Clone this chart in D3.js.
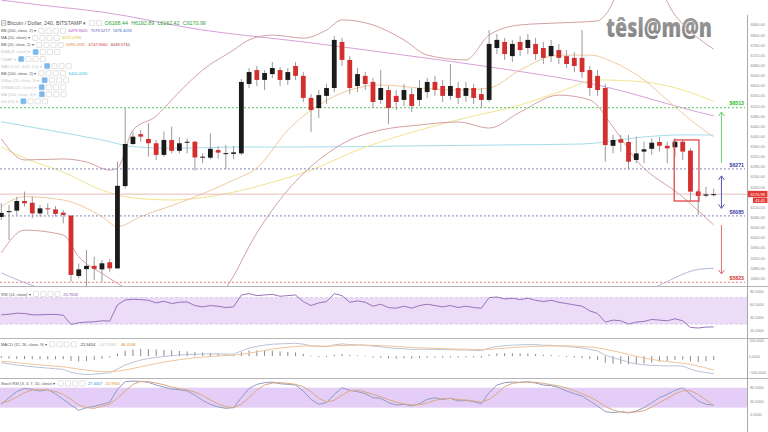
<!DOCTYPE html>
<html><head><meta charset="utf-8">
<script src="https://cdn.jsdelivr.net/npm/d3@7"></script>
<style>html,body{margin:0;padding:0;background:#fff;overflow:hidden}svg{display:block;font-family:"Liberation Sans",Arial,sans-serif}</style>
</head><body><svg id="c" width="768" height="432"></svg>
<script>
// ---------------- DATA ----------------
const opens =[6081,6100,6106,6144,6137,6095,6115,6111,6098,6086,5848,5875,5888,5874,5902,5878,6203,6369,6408,6389,6372,6326,6385,6342,6374,6378,6318,6315,6345,6331,6330,6332,6606,6661,6622,6645,6661,6622,6677,6638,6551,6511,6559,6590,6772,6701,6598,6638,6614,6543,6582,6559,6543,6566,6543,6574,6614,6598,6559,6590,6559,6590,6566,6543,6748,6772,6716,6772,6748,6764,6748,6716,6740,6716,6709,6709,6661,6638,6590,6362,6388,6377,6306,6339,6350,6377,6362,6356,6378,6343,6182,6165,6168.44];
const highs =[6136,6128,6161,6181,6161,6128,6135,6124,6108,6089,5898,5950,5924,5911,5914,6299,6510,6418,6424,6451,6385,6418,6437,6395,6391,6382,6332,6411,6361,6365,6361,6626,6669,6677,6661,6693,6673,6669,6693,6653,6566,6582,6606,6795,6788,6716,6669,6653,6630,6661,6598,6582,6606,6590,6622,6630,6638,6622,6685,6614,6614,6606,6590,6819,6803,6788,6780,6795,6803,6788,6772,6780,6764,6740,6732,6819,6677,6661,6606,6405,6405,6405,6398,6378,6392,6396,6378,6392,6385,6352,6190,6200,6192.89];
const lows  =[6069,5990,6089,6121,6076,6082,6089,6082,6056,5825,5839,5800,5832,5825,5865,5878,6194,6365,6378,6319,6306,6319,6332,6332,6332,6264,6293,6309,6312,6269,6309,6325,6590,6598,6582,6630,6598,6602,6622,6535,6416,6472,6527,6574,6677,6566,6574,6582,6511,6527,6448,6503,6519,6495,6519,6551,6559,6535,6543,6527,6535,6527,6511,6535,6724,6701,6693,6716,6724,6701,6685,6693,6685,6669,6653,6630,6559,6559,6299,6332,6339,6269,6293,6293,6326,6339,6293,6319,6306,6141,6089,6159,6162.42];
const closes=[6097,6104,6144,6135,6095,6115,6111,6093,6089,5852,5874,5888,5876,5898,5878,6204,6369,6398,6398,6372,6326,6385,6342,6372,6378,6316,6319,6350,6335,6333,6336,6614,6653,6622,6649,6669,6622,6653,6638,6551,6503,6562,6590,6780,6701,6590,6645,6606,6535,6590,6511,6535,6582,6519,6590,6614,6582,6559,6598,6551,6590,6551,6543,6764,6780,6724,6764,6740,6780,6724,6709,6756,6709,6685,6677,6653,6590,6582,6365,6385,6374,6299,6332,6348,6374,6362,6352,6378,6339,6181,6164,6170,6170.99];

// overlay studies: [candle index, price]
const bb200Basis=[[0,6937],[5,6918],[13,6890],[26,6819],[39,6772],[52,6720],[64,6669],[77,6602],[90,6495],[92,6479.96]];
const bb200Lower=[[0,5860],[5,5800],[13,5753],[39,5694],[64,5714],[77,5753],[84,5800],[90,5874],[92,5878.41]];
const ma50=[[0,6357],[3,6314],[8,6258],[13,6187],[17,6156],[22,6148],[30,6179],[36,6227],[40,6266],[46,6345],[54,6424],[60,6472],[67,6523],[72,6574],[77,6622],[83,6614],[88,6582],[92,6537.08]];
const bb100Basis=[[0,6457],[6,6424],[13,6385],[17,6359],[22,6352],[30,6357],[39,6357],[52,6361],[64,6365],[75,6369],[83,6397],[88,6405],[92,6404.41]];
const bb20Upper=[[0,6389],[3,6306],[8,6310],[11,6298],[14,6266],[15,6274],[17,6424],[20,6479],[22,6543],[26,6661],[30,6740],[32,6780],[35,6799],[39,6787],[42,6819],[44,6859],[48,6839],[52,6780],[55,6720],[60,6701],[63,6799],[67,6839],[72,6847],[77,6855],[78,6878],[80,6977],[84,7016],[87,6878],[92,6742.97]];
const bb20Basis=[[0,6122],[3,6161],[8,6148],[13,6082],[15,6043],[18,6082],[24,6148],[30,6227],[33,6274],[37,6424],[41,6523],[45,6582],[49,6602],[54,6590],[59,6582],[63,6590],[67,6661],[72,6720],[76,6720],[79,6693],[83,6622],[86,6543],[89,6464],[92,6396.27]];
const bb20Lower=[[0,5939],[3,6029],[8,6010],[10,5924],[13,5858],[15,5819],[16,5800],[19,5714],[23,5674],[27,5733],[29,5800],[33,6018],[37,6187],[41,6306],[45,6385],[49,6424],[54,6444],[59,6456],[63,6432],[67,6495],[72,6562],[76,6543],[79,6436],[82,6306],[88,6160],[92,6049.57]];

const rsi=[44,44.8,46.5,46,44,44,44.5,44.5,43.5,29.5,32,33,33.5,35,34.5,58.9,66.5,67.5,67,66,62,64.5,61,63,63.5,58,56,58,57,55,56,74,76,73,74,75,72,73,74,64,58,62,64,76,73,63,65,63,57,60,55,54,57,54,58,60,58,56,58,55,57,55,54,70,71,68,69,67,69,66,64,66,63,61,59,57,50,46,33,36,35,30,33,34,37,36,35,38,35,25,24,25.5,25.77];
const macd=[-40,-48,-55,-60,-66,-70,-74,-78,-82,-100,-110,-114,-112,-108,-102,-80,-55,-38,-24,-15,-8,-2,3,7,10,12,13,14,14,13,12,32,50,60,68,74,76,78,80,74,64,60,58,70,76,72,70,68,62,58,52,48,46,42,42,43,42,40,40,38,38,36,34,50,60,64,68,70,72,71,68,67,64,60,56,51,42,32,6,-10,-22,-38,-48,-54,-57,-59,-61,-60,-62,-80,-94,-102,-107.96];
const signal=[-32,-36,-40,-45,-50,-54,-58,-62,-66,-73,-80,-87,-92,-95,-97,-93,-86,-76,-66,-56,-46,-37,-29,-22,-16,-10,-6,-2,1,4,6,11,19,27,35,43,50,55,60,63,63,63,62,64,66,67,68,68,67,65,63,60,57,54,52,50,48,47,45,44,43,41,40,42,46,49,53,56,59,61,62,63,63,63,62,60,57,52,43,33,22,10,-1,-11,-20,-28,-34,-39,-44,-51,-61,-73,-86.01];
const hist=[-8,-12,-15,-15,-16,-16,-16,-16,-16,-27,-30,-27,-20,-13,-5,13,31,38,42,41,38,35,32,29,26,22,19,16,13,9,6,21,31,33,33,31,26,23,20,11,1,-3,-4,6,10,5,2,0,-5,-7,-11,-12,-11,-12,-10,-7,-6,-7,-5,-6,-5,-5,-6,8,14,15,15,14,13,10,6,4,1,-3,-6,-9,-15,-20,-37,-43,-44,-48,-47,-43,-37,-31,-27,-21,-18,-29,-33,-29,-21.94];
const stochK=[30,50,68,78,75,70,74,62,45,28,12,20,24,30,36,75,98,100,99,96,88,82,76,74,70,58,42,30,22,18,20,50,78,90,95,97,92,90,88,70,45,30,35,60,80,72,68,62,50,48,35,28,30,25,32,45,50,45,48,40,42,38,32,65,88,95,97,96,98,94,88,86,80,70,62,55,40,25,8,5,8,4,10,20,35,50,60,72,80,60,40,30,27.41];
const stochD=[35,40,52,65,73,74,73,69,60,45,28,20,18,24,30,48,70,90,99,98,94,89,82,77,73,67,57,43,31,23,20,30,50,73,88,94,95,93,90,83,68,48,37,42,58,71,73,67,60,53,44,37,31,28,29,34,42,47,48,44,43,40,37,45,62,83,93,96,97,96,93,89,85,79,71,62,52,40,24,13,7,6,7,11,22,35,48,61,71,71,60,43,24.99];

const priceTicks=[6840,6800,6760,6720,6680,6640,6600,6560,6520,6480,6440,6400,6360,6320,6280,6240,6200,6120,6080,6040,6000,5960,5920,5880,5840];
const rsiTicks=[80,60,40,20];
const macdTicks=[100,0,-100];
const stochTicks=[80,40,0];

const levels=[6513,6271,6085,5823];
const lastPrice=6170.99;
const countdown="41:41";
const boxAnn={i0:86.9,i1:90.1,p0:6144,p1:6385};
const arrowIndex=93;
const arrows=[{from:6294,to:6495,both:false},{from:6115,to:6243,both:true},{from:6049,to:5856,both:false}];

const titleText="Bitcoin / Dollar, 240, BITSTAMP";
const ohlcText=["O6168.44","H6192.89","L6162.42","C6170.99"];
const studyNames=["BB (200, close, 2)","MA (50, close)","BB (20, close, 2)","EMA (8, close)","VWAP","SAR (0.02, 0.02, 0.2)","BB (100, close, 2)","VWap (20, close, 3)","VWMA (20, close)","MA (100, close, 0)","Vol (20)"];
const studyValues=[["6479.9605","7079.5277","5878.4093"],["6537.0780"],["6396.2685","6742.9660","6049.5710"],[],[],[],["6404.4081"],[],[],[],[]];
const rsiLegend=["RSI (14, close)",["25.7658"]];
const macdLegend=["MACD (12, 26, close, 9)",["-21.9414","-107.9562","-86.0148"]];
const stochLegend=["Stoch RSI (3, 3, 7, 10, close)",["27.4057","24.9920"]];
const logoText="têsl@m@n";

// ---------------- STYLES ----------------
const studyColors=[['#b044b8','#5a4ab0','#3d6fc0'],['#e2c21a'],['#e08a3c','#d03a3a','#a82828'],[],[],[],['#2ec4d6'],[],[],[],[]];
const studyOn=[true,true,true,false,false,false,true,false,false,false,false];
const levelColors=[{line:'#6fcf6f',text:'#22bb22'},{line:'#9494c8',text:'#3a3aa8'},{line:'#9494c8',text:'#3a3aa8'},{line:'#e59090',text:'#d03030'}];
const arrowColors=['#6fcf6f','#5555b0','#e07070'];

// ---------------- CHART ----------------
const W=768,H=432,AX=747.5;
const svg=d3.select('#c');
const x=d3.scaleLinear().domain([0,92]).range([1.3,713.7]);
const y=d3.scaleLinear().domain([5840,6840]).range([278,24.7]);
const yR=d3.scaleLinear().domain([20,80]).range([330.7,291]);
const yM=d3.scaleLinear().domain([-100,100]).range([372.3,340]);
const yS=d3.scaleLinear().domain([0,80]).range([414.3,387.7]);
const idx=d3.range(opens.length);

const defs=svg.append('defs');
defs.append('clipPath').attr('id','mc').append('rect').attr('x',0).attr('y',0).attr('width',AX).attr('height',286);
defs.append('clipPath').attr('id','rc').append('rect').attr('x',0).attr('y',287).attr('width',AX).attr('height',51);
defs.append('clipPath').attr('id','macdc').append('rect').attr('x',0).attr('y',339).attr('width',AX).attr('height',39);
defs.append('clipPath').attr('id','sc').append('rect').attr('x',0).attr('y',379).attr('width',AX).attr('height',53);
const grad=defs.append('linearGradient').attr('id','lg').attr('x1',0).attr('y1',0).attr('x2',0).attr('y2',1);
grad.append('stop').attr('offset','0').attr('stop-color','#a6a6a6');
grad.append('stop').attr('offset','1').attr('stop-color','#7c7c7c');

// logo
svg.append('text').attr('x',606).attr('y',37).attr('font-family','"Open Sans","DejaVu Sans",sans-serif')
  .attr('font-weight',800).attr('font-size',27).attr('fill','url(#lg)')
  .attr('textLength',106).attr('lengthAdjust','spacingAndGlyphs').text(logoText);

const main=svg.append('g').attr('clip-path','url(#mc)');

// overlays
const ln=d3.line().x(d=>x(d[0])).y(d=>y(d[1])).curve(d3.curveMonotoneX);
const overlays=[
  [bb200Basis,'#d7a0d9'],[bb200Lower,'#b8b4de'],[bb100Basis,'#a6dcec'],[ma50,'#f1e48e'],
  [bb20Basis,'#f0c9a0'],[bb20Upper,'#d3a2a2'],[bb20Lower,'#d3a2a2']
];
overlays.forEach(([d,c])=>main.append('path').attr('d',ln(d)).attr('fill','none').attr('stroke',c).attr('stroke-width',1));

// current price line
main.append('line').attr('x1',0).attr('x2',AX).attr('y1',y(lastPrice)).attr('y2',y(lastPrice)).attr('stroke','#e8bcbc').attr('stroke-width',1);

// levels
levels.forEach((v,k)=>{
  main.append('line').attr('x1',0).attr('x2',745).attr('y1',y(v)).attr('y2',y(v))
    .attr('stroke',levelColors[k].line).attr('stroke-width',1.2).attr('stroke-dasharray','1.8,2.2');
  svg.append('text').attr('x',744).attr('y',y(v)-2.2).attr('text-anchor','end').attr('font-size',5.2)
    .attr('font-weight','bold').attr('fill',levelColors[k].text).text('$'+v);
});

// candles
const cg=main.append('g');
cg.selectAll('line.w').data(idx).join('line').attr('class','w')
  .attr('x1',i=>x(i)).attr('x2',i=>x(i)).attr('y1',i=>y(highs[i])).attr('y2',i=>y(lows[i]))
  .attr('stroke','#9a9a9a').attr('stroke-width',1);
cg.selectAll('rect.b').data(idx).join('rect').attr('class','b')
  .attr('x',i=>x(i)-2.4).attr('width',4.8)
  .attr('y',i=>y(Math.max(opens[i],closes[i])))
  .attr('height',i=>Math.max(1,Math.abs(y(opens[i])-y(closes[i]))))
  .attr('fill',i=>closes[i]>=opens[i]?'#1b1b1b':'#d32f2f');

// annotation box
main.append('rect').attr('x',x(boxAnn.i0)).attr('y',y(boxAnn.p1)).attr('width',x(boxAnn.i1)-x(boxAnn.i0))
  .attr('height',y(boxAnn.p0)-y(boxAnn.p1)).attr('fill','none').attr('stroke','#e04848').attr('stroke-width',1.3);

// arrows
arrows.forEach((a,k)=>{
  const ax=x(arrowIndex), y1=y(a.from), y2=y(a.to);
  const dir=y2<y1?1:-1;
  let p=`M${ax},${y1}L${ax},${y2}M${ax-3},${y2+dir*4}L${ax},${y2}L${ax+3},${y2+dir*4}`;
  if(a.both) p+=`M${ax-3},${y1-dir*4}L${ax},${y1}L${ax+3},${y1-dir*4}`;
  svg.append('path').attr('d',p).attr('fill','none').attr('stroke',arrowColors[k]).attr('stroke-width',1);
});

// ---------- sub panes ----------
const rg=svg.append('g').attr('clip-path','url(#rc)');
rg.append('rect').attr('x',0).attr('width',AX).attr('y',yR(70)).attr('height',yR(30)-yR(70)).attr('fill','#ecdcf8');
[70,30].forEach(v=>rg.append('line').attr('x1',0).attr('x2',AX).attr('y1',yR(v)).attr('y2',yR(v)).attr('stroke','#c9b3e0').attr('stroke-width',0.6).attr('stroke-dasharray','3,2'));
rg.append('path').attr('d',d3.line().x((d,i)=>x(i)).y(d=>yR(d))(rsi)).attr('fill','none').attr('stroke','#9a72b8').attr('stroke-width',1);

const mg=svg.append('g').attr('clip-path','url(#macdc)');
mg.selectAll('line.h').data(idx).join('line').attr('class','h')
  .attr('x1',i=>x(i)).attr('x2',i=>x(i)).attr('y1',yM(0)).attr('y2',i=>yM(hist[i])+(hist[i]>=0?-0.5:0.5))
  .attr('stroke','#8a8a8a').attr('stroke-width',1);
mg.append('path').attr('d',d3.line().x((d,i)=>x(i)).y(d=>yM(d))(macd)).attr('fill','none').attr('stroke','#bcc2d4').attr('stroke-width',1);
mg.append('path').attr('d',d3.line().x((d,i)=>x(i)).y(d=>yM(d))(signal)).attr('fill','none').attr('stroke','#efc49a').attr('stroke-width',1);

const sg=svg.append('g').attr('clip-path','url(#sc)');
sg.append('rect').attr('x',0).attr('width',AX).attr('y',yS(80)).attr('height',yS(20)-yS(80)).attr('fill','#e4cdf6');
sg.append('path').attr('d',d3.line().x((d,i)=>x(i)).y(d=>yS(d))(stochK)).attr('fill','none').attr('stroke','#8f9cc0').attr('stroke-width',1);
sg.append('path').attr('d',d3.line().x((d,i)=>x(i)).y(d=>yS(d))(stochD)).attr('fill','none').attr('stroke','#d9a982').attr('stroke-width',1);

// separators & axis line
[286.5,338.5,378.5].forEach(v=>svg.append('line').attr('x1',0).attr('x2',W).attr('y1',v).attr('y2',v).attr('stroke','#b5b5b5').attr('stroke-width',1));
svg.append('line').attr('x1',AX).attr('x2',AX).attr('y1',15).attr('y2',H).attr('stroke','#a8a8a8').attr('stroke-width',1);

// axes
function styleAxis(fs){return g=>{g.select('.domain').remove();g.selectAll('text').attr('font-size',fs).attr('fill','#8a8a8a').attr('font-family','"Liberation Sans",Arial,sans-serif');};}
svg.append('g').attr('transform',`translate(${AX},0)`).call(d3.axisRight(y).tickValues(priceTicks).tickSize(0).tickPadding(3).tickFormat(d3.format('.2f'))).call(styleAxis(4));
svg.append('g').attr('transform',`translate(${AX},0)`).call(d3.axisRight(yR).tickValues(rsiTicks).tickSize(0).tickPadding(2.5).tickFormat(d3.format('.4f'))).call(styleAxis(3.8));
svg.append('g').attr('transform',`translate(${AX},0)`).call(d3.axisRight(yM).tickValues(macdTicks).tickSize(0).tickPadding(1.5).tickFormat(d3.format('.4f'))).call(styleAxis(3.6));
svg.append('g').attr('transform',`translate(${AX},0)`).call(d3.axisRight(yS).tickValues(stochTicks).tickSize(0).tickPadding(2.5).tickFormat(d3.format('.4f'))).call(styleAxis(3.8));

// price boxes
const py=y(lastPrice);
svg.append('rect').attr('x',748).attr('y',py-3.3).attr('width',19.5).attr('height',6.3).attr('fill','#e53935');
svg.append('text').attr('x',757.7).attr('y',py+1.4).attr('text-anchor','middle').attr('font-size',4).attr('fill','#fff').text(d3.format('.2f')(lastPrice));
svg.append('rect').attr('x',753).attr('y',py+3.4).attr('width',14.5).attr('height',5.4).attr('fill','#e53935');
svg.append('text').attr('x',760.2).attr('y',py+7.5).attr('text-anchor','middle').attr('font-size',4).attr('fill','#fff').text(countdown);

// ---------- legends ----------
function icons(g,cx,cy,n,firstBlue){
  for(let k=0;k<n;k++){
    g.append('rect').attr('x',cx+k*7.2).attr('y',cy-2.5).attr('width',5).attr('height',5).attr('rx',0.6)
      .attr('fill',(firstBlue&&k===0)?'#7cb8ea':'#fff').attr('stroke',(firstBlue&&k===0)?'#7cb8ea':'#cfcfcf').attr('stroke-width',0.6);
  }
  return cx+(n-1)*7.2+5;
}
function legend(xs,yb,label,fs,col,nIcons,firstBlue,vals,cols,vfs){
  const t=svg.append('text').attr('x',xs).attr('y',yb).attr('font-size',fs).attr('fill',col).text(label+' \u25BE');
  let cx=xs+t.node().getComputedTextLength()+3;
  cx=icons(svg,cx,yb-fs*0.36,nIcons,firstBlue)+3;
  vals.forEach((v,k)=>{
    const tv=svg.append('text').attr('x',cx).attr('y',yb).attr('font-size',vfs||fs).attr('fill',cols[k]).text(v);
    cx+=tv.node().getComputedTextLength()+3.3;
  });
}
svg.append('rect').attr('x',1.5).attr('y',20.8).attr('width',4.4).attr('height',4.4).attr('fill','none').attr('stroke','#888').attr('stroke-width',0.6);
svg.append('line').attr('x1',2.5).attr('x2',5).attr('y1',23).attr('y2',23).attr('stroke','#888').attr('stroke-width',0.6);
legend(7.3,25,titleText,5.3,'#555',2,false,ohlcText,ohlcText.map(()=>'#2f9e3a'),5.3);
studyNames.forEach((n,k)=>{
  legend(1,32.3+k*7.05,n,4,studyOn[k]?'#555':'#c6c6c6',4,!studyOn[k],studyValues[k],studyColors[k]);
});
legend(1,295.5,rsiLegend[0],4,'#555',4,false,rsiLegend[1],['#7e4fa8']);
legend(1,345.8,macdLegend[0],4,'#555',4,false,macdLegend[1],['#333','#bdbdbd','#e08a2a']);
legend(1,384.8,stochLegend[0],4,'#555',4,false,stochLegend[1],['#2a8fd6','#e08a2a']);
</script></body></html>
